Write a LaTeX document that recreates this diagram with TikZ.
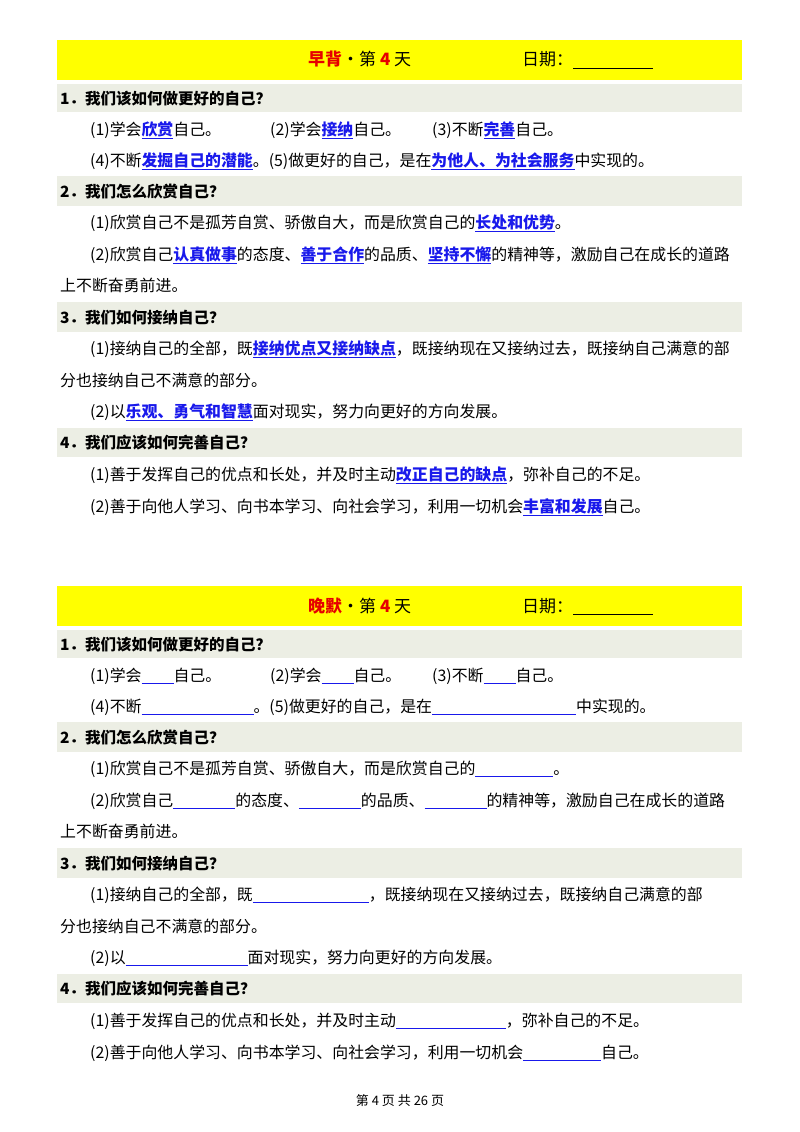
\documentclass[tikz,border=0pt]{standalone}
\usepackage{fontspec}
\setmainfont{Noto Sans CJK SC}
\usepackage{xcolor}
\definecolor{ansblue}{RGB}{25,25,235}
\definecolor{band}{RGB}{236,238,228}
\definecolor{hdr}{RGB}{255,255,0}
\definecolor{redt}{RGB}{230,0,0}
\newcommand{\ans}[1]{{\color{ansblue}\bfseries\underline{#1}}}
\newcommand{\blk}[1]{{\color{ansblue}\rule[-3pt]{#1pt}{0.7pt}}}
\begin{document}
\begin{tikzpicture}[x=1pt,y=-1pt,
  t/.style={anchor=base west,inner sep=0pt,font=\fontsize{15.9}{17}\selectfont},
  h/.style={t,font=\fontsize{15.5}{17}\selectfont\bfseries},
  hd/.style={anchor=base west,inner sep=0pt,font=\fontsize{17}{19}\selectfont}]
\useasboundingbox (0,0) rectangle (800,1132);
\fill[white] (0,0) rectangle (800,1132);
\foreach \o/\nm in {0/早背,546/晚默}{
\begin{scope}[yshift=-\o]
\fill[hdr] (57,40) rectangle (742,80);
\fill[band] (57,84) rectangle (742,112);
\fill[band] (57,176) rectangle (742,206);
\fill[band] (57,302) rectangle (742,332);
\fill[band] (57,428) rectangle (742,457);
\node[hd] (title\o) at (308,66) {{\color{redt}\bfseries \nm}·第 {\color{redt}\bfseries 4} 天};
\node[hd] (date\o) at (522,66) {日期：\rule[-3pt]{80pt}{0.7pt}};
\node[h] (q1\o) at (60,104) {1．我们该如何做更好的自己？};
\node[h] (q2\o) at (60,197) {2．我们怎么欣赏自己？};
\node[h] (q3\o) at (60,323) {3．我们如何接纳自己？};
\node[h] (q4\o) at (60,448) {4．我们应该如何完善自己？};
\node[t] (l3\o) at (60,291) {上不断奋勇前进。};
\node[t] (l6\o) at (60,386) {分也接纳自己不满意的部分。};
\end{scope}}
\node[t] (a1) at (90,135) {(1)学会\ans{欣赏}自己。};
\node[t] (a2) at (270,135) {(2)学会\ans{接纳}自己。};
\node[t] (a3) at (432,135) {(3)不断\ans{完善}自己。};
\node[t] (a4) at (90,166) {(4)不断\ans{发掘自己的潜能}。(5)做更好的自己，是在\ans{为他人、为社会服务}中实现的。};
\node[t] (b1) at (90,228) {(1)欣赏自己不是孤芳自赏、骄傲自大，而是欣赏自己的\ans{长处和优势}。};
\node[t] (b2) at (90,260) {(2)欣赏自己\ans{认真做事}的态度、\ans{善于合作}的品质、\ans{坚持不懈}的精神等，激励自己在成长的道路};
\node[t] (c1) at (90,354) {(1)接纳自己的全部，既\ans{接纳优点又接纳缺点}，既接纳现在又接纳过去，既接纳自己满意的部};
\node[t] (c2) at (90,417) {(2)以\ans{乐观、勇气和智慧}面对现实，努力向更好的方向发展。};
\node[t] (d1) at (90,480) {(1)善于发挥自己的优点和长处，并及时主动\ans{改正自己的缺点}，弥补自己的不足。};
\node[t] (d2) at (90,512) {(2)善于向他人学习、向书本学习、向社会学习，利用一切机会\ans{丰富和发展}自己。};
\node[t] (e1) at (90,681) {(1)学会\blk{32}自己。};
\node[t] (e2) at (270,681) {(2)学会\blk{32}自己。};
\node[t] (e3) at (432,681) {(3)不断\blk{32}自己。};
\node[t] (e4) at (90,712) {(4)不断\blk{112}。(5)做更好的自己，是在\blk{144}中实现的。};
\node[t] (f1) at (90,774) {(1)欣赏自己不是孤芳自赏、骄傲自大，而是欣赏自己的\blk{78}。};
\node[t] (f2) at (90,806) {(2)欣赏自己\blk{62}的态度、\blk{62}的品质、\blk{62}的精神等，激励自己在成长的道路};
\node[t] (g1) at (90,900) {(1)接纳自己的全部，既\blk{116}，既接纳现在又接纳过去，既接纳自己满意的部};
\node[t] (g2) at (90,963) {(2)以\blk{122}面对现实，努力向更好的方向发展。};
\node[t] (k1) at (90,1026) {(1)善于发挥自己的优点和长处，并及时主动\blk{110}，弥补自己的不足。};
\node[t] (k2) at (90,1058) {(2)善于向他人学习、向书本学习、向社会学习，利用一切机会\blk{78}自己。};
\node[anchor=base,inner sep=0pt,font=\fontsize{13}{15}\selectfont] (foot) at (400,1105) {第\ 4\ 页\ 共\ 26\ 页};
\end{tikzpicture}
\end{document}
